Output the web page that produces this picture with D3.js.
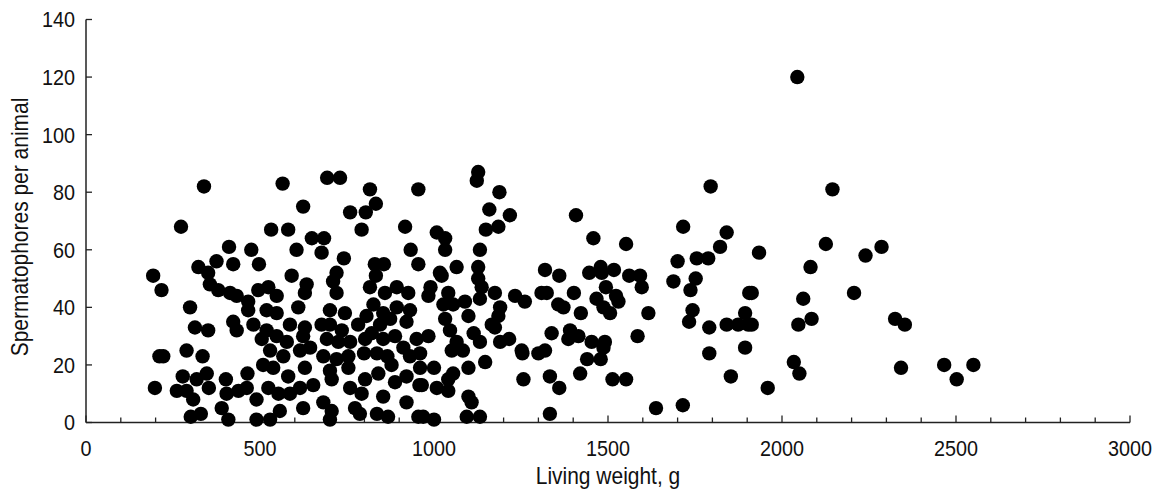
<!DOCTYPE html>
<html>
<head>
<meta charset="utf-8">
<script src="https://cdn.jsdelivr.net/npm/d3@7"></script>
<style>
    body { margin: 0; background: #ffffff; }
    #chart { display: block; }
</style>
</head>
<body>
<svg id="chart"></svg>
<script>
// living weight (g) and spermatophore count, one entry per animal
let weights = [
    339, 565, 273, 532, 411, 475, 375, 423, 497, 323, 351, 193, 217, 356, 380, 414, 433, 466, 495, 524,
    548, 299, 466, 519, 548, 423, 313, 351, 433, 481, 519, 505, 529, 548, 211, 222, 289, 335, 278, 318,
    347, 402, 464, 509, 538, 198, 261, 289, 308, 353, 404, 438, 462, 490, 524, 553, 301, 330, 390, 409,
    490, 529, 557,
    693, 730, 816, 955, 624, 833, 759, 804, 792, 917, 581, 649, 684, 677, 605, 741, 933, 830, 856, 955,
    833, 720, 591, 710, 634, 720, 629, 816, 859, 893, 926, 610, 701, 744, 826, 854, 893, 931, 586, 629,
    677, 701, 735, 782, 806, 845, 874, 921, 577, 624, 644, 692, 725, 759, 802, 821, 854, 888, 912, 950,
    567, 615, 682, 720, 754, 799, 836, 866, 931, 629, 581, 701, 754, 840, 878, 921, 653, 615, 706, 759,
    802, 888, 958, 586, 792, 854, 682, 624, 706, 773, 787, 836, 868, 921, 701, 955,
    1127, 1123, 1188, 1159, 1218, 1185, 1149, 1008, 1032, 1032, 1132, 1065, 1017, 1022, 1127, 1127, 1137, 1175, 1233, 1261,
    990, 984, 1041, 1027, 1055, 1089, 1132, 1190, 1185, 1099, 1032, 1166, 1046, 1114, 1175, 1190, 1216, 1132, 984, 1065,
    1051, 1083, 960, 1147, 1000, 960, 1099, 1055, 1041, 1252, 1254, 1300, 1319, 1257, 1333, 965, 1008, 1041, 1099, 1108,
    969, 1000, 1094, 1132, 1333, 1319, 1360, 1309, 1324, 1357, 1338, 1360,
    1795, 1408, 1716, 1841, 1458, 1552, 1822, 1700, 1755, 1788, 1446, 1479, 1482, 1517, 1561, 1592, 1597, 1688, 1752, 1737,
    1494, 1402, 1467, 1523, 1530, 1487, 1506, 1372, 1422, 1616, 1743, 1733, 1791, 1841, 1874, 1903, 1906, 1894, 1391, 1386,
    1415, 1453, 1491, 1487, 1585, 1440, 1479, 1894, 1791, 1420, 1513, 1552, 1853, 1638, 1715,
    2145, 2126, 2286, 2240, 1934, 2082, 1913, 2207, 2061, 1913, 2047, 2085, 2325, 2353, 2034, 2050, 2342, 1959,
    2466, 2550, 2502, 2044
];

let spermatophores = [
    82, 83, 68, 67, 61, 60, 56, 55, 55, 54, 52, 51, 46, 48, 46, 45, 44, 42, 46, 47,
    44, 40, 39, 39, 38, 35, 33, 32, 32, 34, 32, 29, 25, 30, 23, 23, 25, 23, 16, 15,
    17, 15, 17, 20, 19, 12, 11, 11, 8, 12, 10, 11, 12, 8, 12, 10, 2, 3, 5, 1,
    1, 1, 4,
    85, 85, 81, 81, 75, 76, 73, 73, 67, 68, 67, 64, 64, 59, 60, 57, 60, 55, 55, 55,
    51, 52, 51, 49, 48, 45, 45, 47, 45, 47, 45, 40, 39, 38, 41, 38, 40, 39, 34, 33,
    34, 34, 32, 34, 37, 34, 36, 35, 28, 30, 26, 29, 28, 28, 29, 31, 29, 30, 26, 29,
    23, 25, 23, 22, 23, 24, 24, 23, 23, 19, 16, 18, 19, 17, 20, 16, 13, 12, 15, 12,
    15, 14, 13, 10, 10, 9, 7, 5, 4, 5, 3, 3, 2, 7, 1, 2,
    87, 84, 80, 74, 72, 68, 67, 66, 64, 60, 60, 54, 52, 51, 54, 50, 47, 45, 44, 42,
    47, 44, 45, 41, 41, 42, 43, 40, 37, 37, 36, 34, 32, 31, 33, 28, 29, 28, 30, 28,
    25, 25, 24, 21, 19, 19, 19, 17, 15, 25, 24, 24, 25, 15, 16, 13, 12, 11, 9, 7,
    2, 1, 2, 2, 3, 53, 51, 45, 45, 41, 31, 12,
    82, 72, 68, 66, 64, 62, 61, 56, 57, 57, 52, 54, 52, 53, 51, 51, 47, 49, 50, 46,
    47, 45, 43, 44, 42, 40, 38, 40, 38, 38, 39, 35, 33, 34, 34, 34, 45, 38, 32, 29,
    30, 28, 28, 26, 30, 22, 22, 26, 24, 17, 15, 15, 16, 5, 6,
    81, 62, 61, 58, 59, 54, 45, 45, 43, 34, 34, 36, 36, 34, 21, 17, 19, 12,
    20, 20, 15, 120
];

let xTicks      = [0, 500, 1000, 1500, 2000, 2500, 3000];
let xMinorTicks = d3.range(0, 3001, 100);
let yTicks      = [0, 20, 40, 60, 80, 100, 120, 140];

let svgW = 1158;
let svgH = 494;
let mrgn = { top: 19.5, right: 28, bottom: 71.5, left: 86 };
let fontFam = "'Liberation Sans', Arial, Helvetica, sans-serif";
let txtClr  = "#111111";
let axisClr = "#222222";
let squeeze = 0.9;   // the original text is a bit narrower than plain Arial

let mySvg = d3.select("#chart")
                .attr("width",  svgW)
                .attr("height", svgH);

let xScale = d3.scaleLinear()
                .domain([0, 3000])
                .range([mrgn.left, svgW - mrgn.right]);

let yScale = d3.scaleLinear()
                .domain([0, 140])
                .range([svgH - mrgn.bottom, mrgn.top]);

// x axis: minor ticks every 100 g, labels every 500 g (ticks point inward)
let xAxisGrp = mySvg.append("g")
                    .attr("transform", "translate(0," + yScale(0) + ")");

xAxisGrp.append("line")
        .attr("x1", xScale(0))
        .attr("x2", xScale(3000))
        .attr("stroke", axisClr)
        .attr("stroke-width", 1.5);

xAxisGrp.selectAll(".xMinor")
        .data(xMinorTicks)
        .enter()
            .append("line")
                .attr("class", "xMinor")
                .attr("x1", (d)=>{ return xScale(d); })
                .attr("x2", (d)=>{ return xScale(d); })
                .attr("y1", 0)
                .attr("y2", (d)=>{ return d % 500 === 0 ? -7 : -5; })
                .attr("stroke", axisClr)
                .attr("stroke-width", 1.3);

xAxisGrp.selectAll(".xLbl")
        .data(xTicks)
        .enter()
            .append("text")
                .attr("class", "xLbl")
                .attr("transform", (d)=>{ return "translate(" + xScale(d) + ",33.5) scale(" + squeeze + ",1)"; })
                .attr("text-anchor", "middle")
                .style("font-family", fontFam)
                .style("font-size", "22px")
                .attr("fill", txtClr)
                .text((d)=>{ return d; });

// y axis
let yAxisGrp = mySvg.append("g")
                    .attr("transform", "translate(" + xScale(0) + ",0)");

yAxisGrp.append("line")
        .attr("y1", yScale(0))
        .attr("y2", yScale(140))
        .attr("stroke", axisClr)
        .attr("stroke-width", 1.5);

yAxisGrp.selectAll(".yTck")
        .data(yTicks)
        .enter()
            .append("line")
                .attr("class", "yTck")
                .attr("x1", 0)
                .attr("x2", 6)
                .attr("y1", (d)=>{ return yScale(d); })
                .attr("y2", (d)=>{ return yScale(d); })
                .attr("stroke", axisClr)
                .attr("stroke-width", 1.3);

yAxisGrp.selectAll(".yLbl")
        .data(yTicks)
        .enter()
            .append("text")
                .attr("class", "yLbl")
                .attr("transform", (d)=>{ return "translate(-11," + yScale(d) + ") scale(" + squeeze + ",1)"; })
                .attr("dy", "0.36em")
                .attr("text-anchor", "end")
                .style("font-family", fontFam)
                .style("font-size", "22px")
                .attr("fill", txtClr)
                .text((d)=>{ return d; });

// axis titles
mySvg.append("text")
        .attr("transform", "translate(" + ((xScale(0) + xScale(3000)) / 2) + ",484) scale(" + squeeze + ",1)")
        .attr("text-anchor", "middle")
        .style("font-family", fontFam)
        .style("font-size", "23.3px")
        .attr("fill", txtClr)
        .text("Living weight, g");

mySvg.append("text")
        .attr("transform", "translate(28,227) rotate(-90) scale(" + squeeze + ",1)")
        .attr("text-anchor", "middle")
        .style("font-family", fontFam)
        .style("font-size", "23.3px")
        .attr("fill", txtClr)
        .text("Spermatophores per animal");

// the points
mySvg.append("g")
        .selectAll("circle")
        .data(d3.zip(weights, spermatophores))
        .enter()
            .append("circle")
                .attr("cx", (d)=>{ return xScale(d[0]); })
                .attr("cy", (d)=>{ return yScale(d[1]); })
                .attr("r", 7.2)
                .attr("fill", "#000000");
</script>
</body>
</html>
